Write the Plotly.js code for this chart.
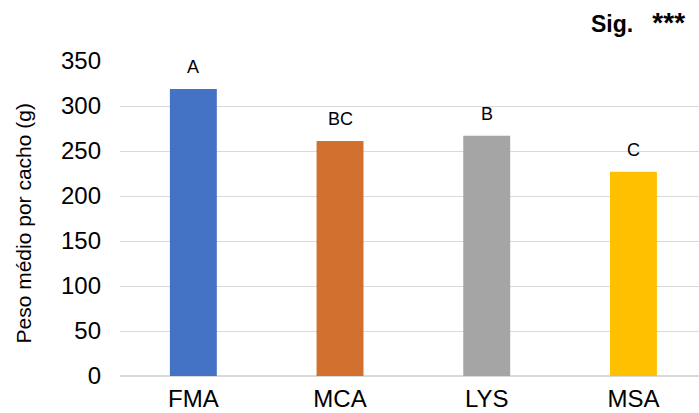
<!DOCTYPE html>
<html><head><meta charset="utf-8">
<script src="https://cdn.plot.ly/plotly-3.0.1.min.js"></script>
<style>html,body{margin:0;padding:0;background:#fff}#c{width:699px;height:413px}</style>
</head><body><div id="c"></div>
<script>
const categories = ["FMA", "MCA", "LYS", "MSA"];
const values = [319, 261, 267, 227];
const letters = ["A", "BC", "B", "C"];
const colors = ["#4472C4", "#D2712F", "#A5A5A5", "#FFC000"];
const yTicks = [0, 50, 100, 150, 200, 250, 300, 350];

const font = "Liberation Sans, Arial, sans-serif";
const trace = {
  type: "bar", x: categories, y: values, width: 0.32,
  marker: {color: colors}, hoverinfo: "skip"
};
const annotations = categories.map((c, i) => ({
  x: c, y: values[i], text: letters[i], showarrow: false,
  yanchor: "bottom", yshift: 10, font: {family: font, size: 18, color: "#000"}
}));
annotations.push({
  xref: "paper", yref: "paper", x: 1.0, y: 1, xanchor: "right", yanchor: "bottom",
  yshift: 21, xshift: -12, text: "<b>Sig.\u00a0\u00a0 <span style=\"font-size:28px\">***</span></b>", showarrow: false,
  font: {family: font, size: 23, color: "#000"}
});
annotations.push({
  xref: "paper", yref: "paper", x: 0, y: 0.5, xanchor: "center", yanchor: "middle",
  xshift: -97, yshift: -5, textangle: -90, text: "Peso médio por cacho (g)", showarrow: false,
  font: {family: font, size: 21, color: "#000"}
});
const layout = {
  width: 699, height: 413,
  margin: {l: 120, r: 0, t: 61, b: 37},
  paper_bgcolor: "#fff", plot_bgcolor: "#fff",
  showlegend: false,
  font: {family: font, color: "#000"},
  xaxis: {range: [-0.5, 3.447], showgrid: false, zeroline: false, showline: false,
    tickfont: {family: font, size: 24, color: "#000"}, ticks: "", ticklabelstandoff: 6, fixedrange: true},
  yaxis: {range: [0, 350], tickvals: yTicks, showgrid: true, gridcolor: "#D9D9D9", gridwidth: 1,
    zeroline: true, zerolinecolor: "#D9D9D9", zerolinewidth: 1.5,
    tickfont: {family: font, size: 24, color: "#000"}, ticks: "", ticklabelstandoff: 18},
  annotations: annotations
};
Plotly.newPlot("c", [trace], layout, {displayModeBar: false, staticPlot: true});
</script></body></html>
